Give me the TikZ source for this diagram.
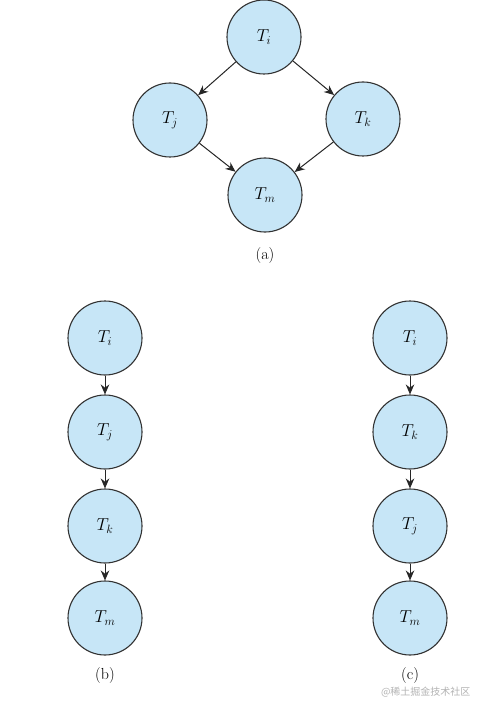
\documentclass[tikz,border=0pt]{standalone}
\usepackage{fontspec}
\newfontfamily\cjk{Noto Sans CJK SC}
\usetikzlibrary{arrows.meta}
\definecolor{nodefill}{RGB}{199,230,247}
\definecolor{nodeedge}{RGB}{50,50,50}
\begin{document}
\begin{tikzpicture}[x=1pt,y=-1pt,
  tnode/.style={circle,draw=nodeedge,fill=nodefill,line width=1.1pt,minimum size=74pt,inner sep=0pt,font=\fontsize{18}{21}\selectfont},
  arr/.style={-{Stealth[length=10pt,width=8.5pt]},line width=1pt,draw=black!85},
  lab/.style={font=\fontsize{16}{19}\selectfont}]
\useasboundingbox (0,0) rectangle (477,703);
% (a)
\node[tnode] (ai) at (264,37) {$T_i$};
\node[tnode] (aj) at (170,120) {$T_j$};
\node[tnode] (ak) at (363,119) {$T_k$};
\node[tnode] (am) at (265,195) {$T_m$};
\draw[arr] (ai) -- (aj);
\draw[arr] (ai) -- (ak);
\draw[arr] (aj) -- (am);
\draw[arr] (ak) -- (am);
\node[lab] (la) at (265,256) {(a)};
% (b)
\node[tnode] (bi) at (105,338) {$T_i$};
\node[tnode] (bj) at (105,432) {$T_j$};
\node[tnode] (bk) at (105,526) {$T_k$};
\node[tnode] (bm) at (105,618) {$T_m$};
\draw[arr] (bi) -- (bj);
\draw[arr] (bj) -- (bk);
\draw[arr] (bk) -- (bm);
\node[lab] (lb) at (105,675) {(b)};
% (c)
\node[tnode] (ci) at (410,338) {$T_i$};
\node[tnode] (ck) at (410,432) {$T_k$};
\node[tnode] (cj) at (410,526) {$T_j$};
\node[tnode] (cm) at (410,618) {$T_m$};
\draw[arr] (ci) -- (ck);
\draw[arr] (ck) -- (cj);
\draw[arr] (cj) -- (cm);
\node[lab] (lc) at (410,675) {(c)};
% watermark
\node[font=\cjk\fontsize{10}{12}\selectfont,text=black!30,anchor=east] (wm) at (474,692) {@稀土掘金技术社区};
\end{tikzpicture}
\end{document}
